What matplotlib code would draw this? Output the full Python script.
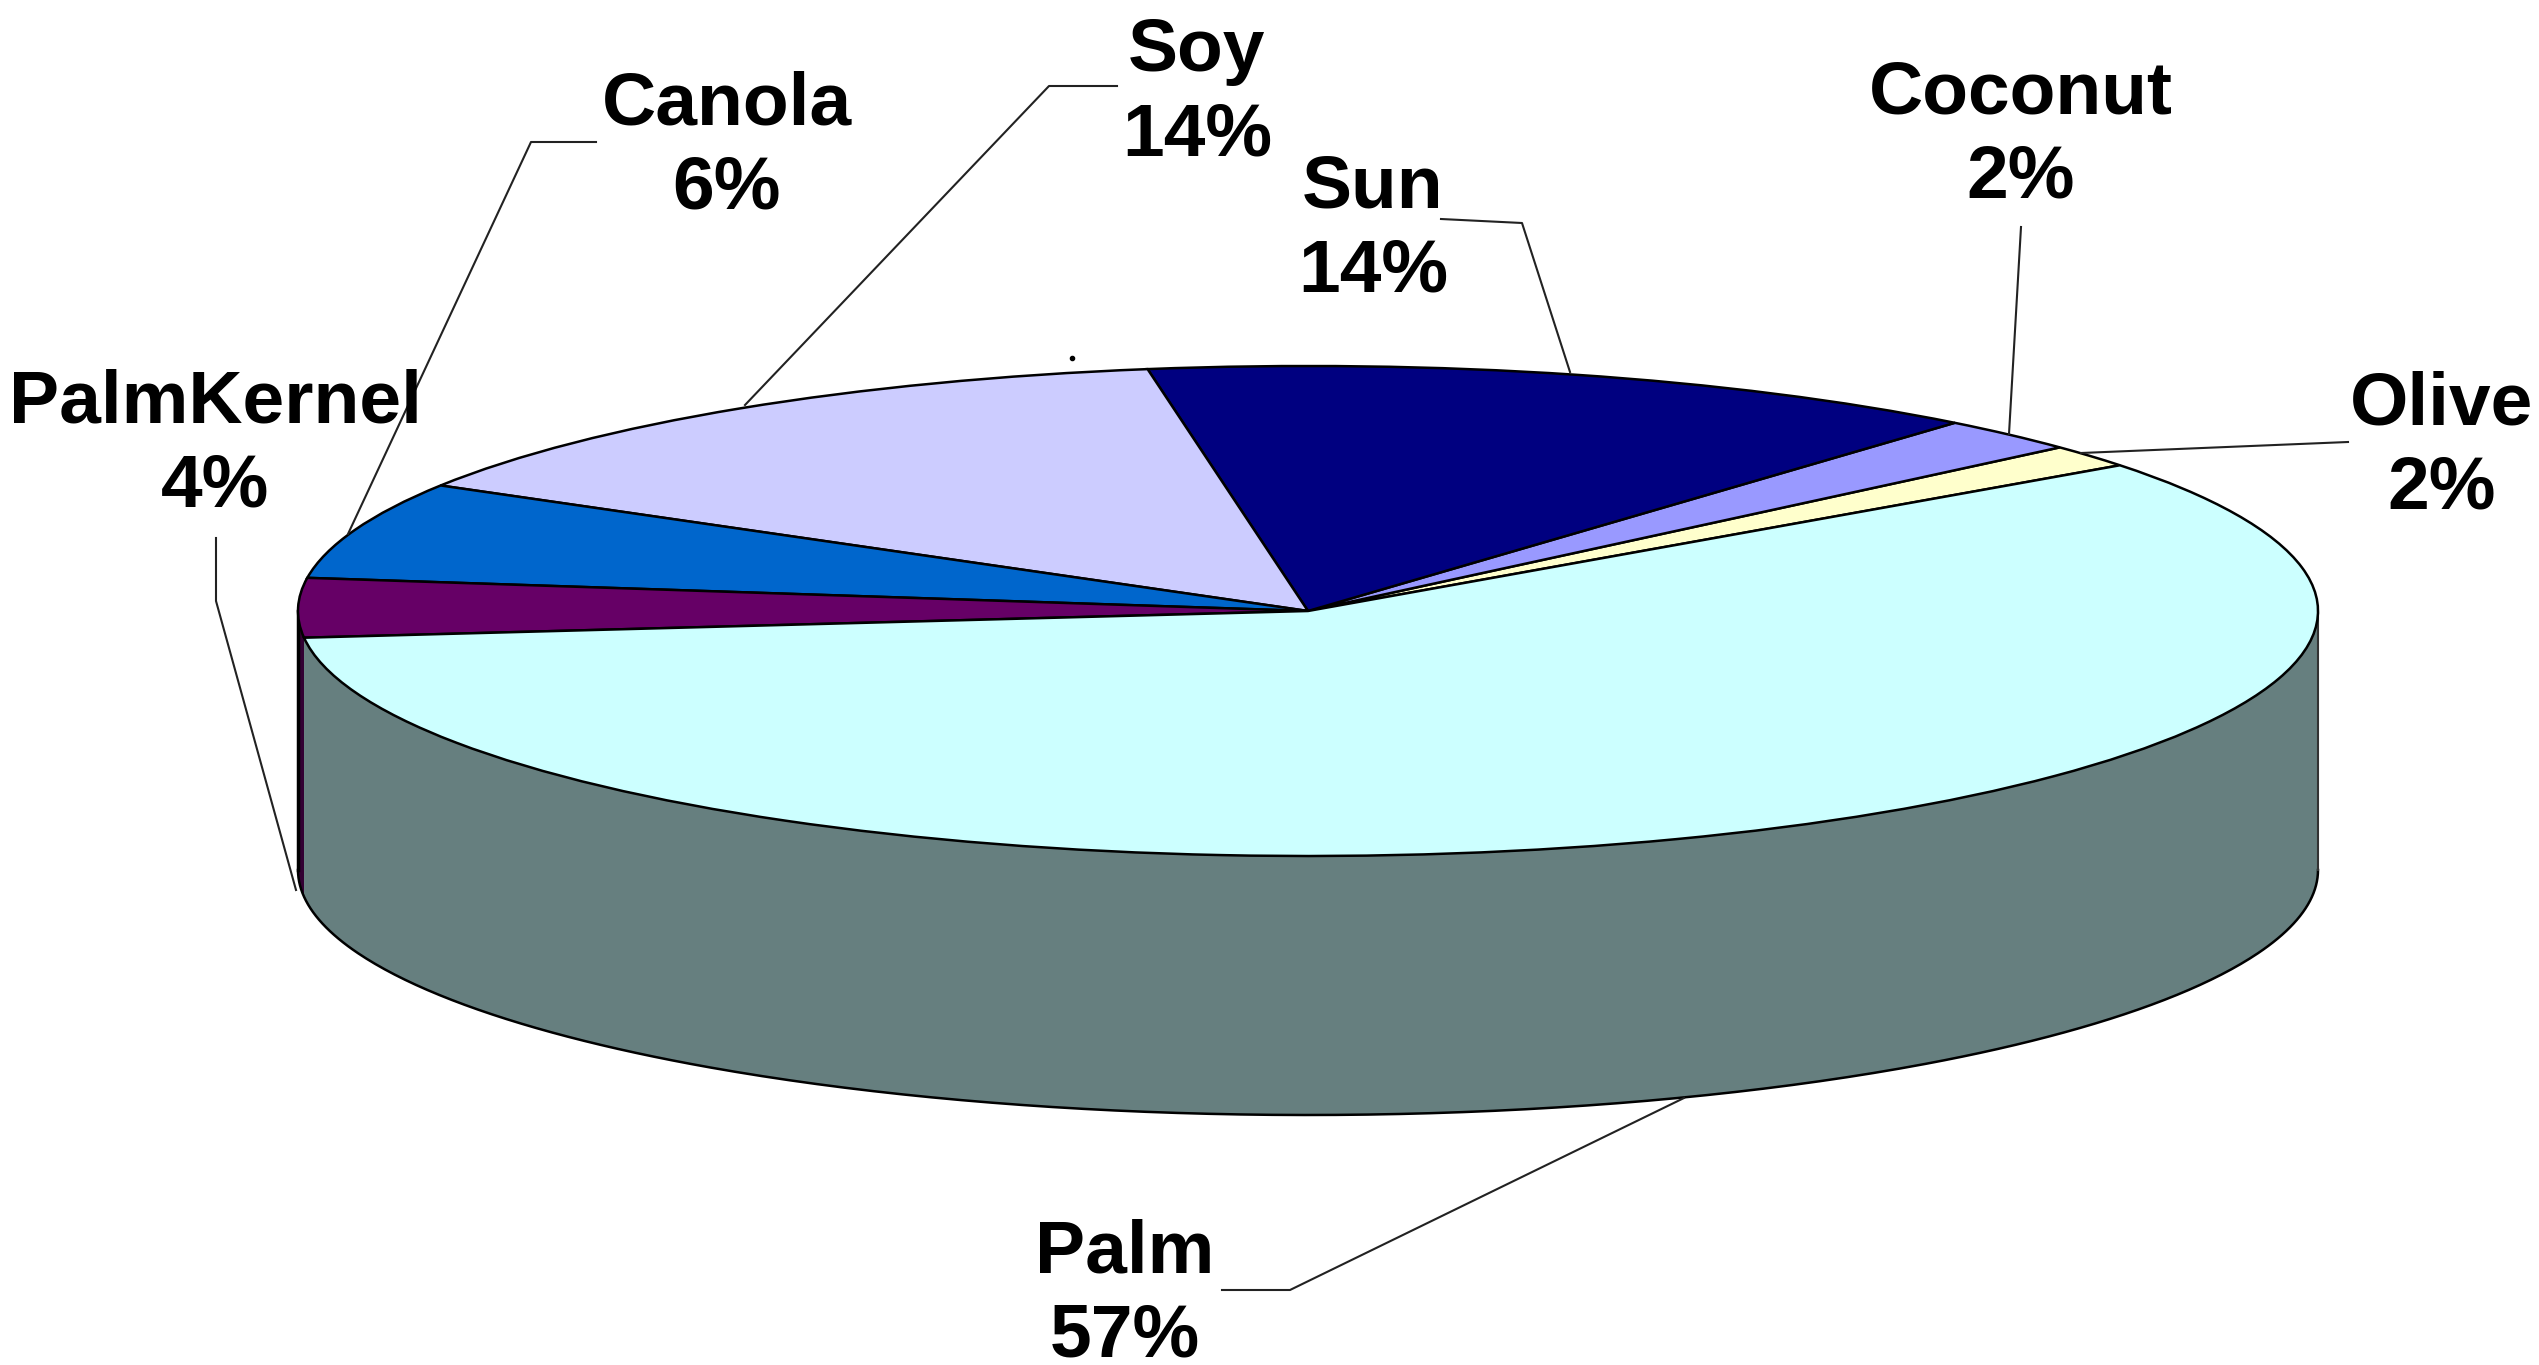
import numpy as np
import matplotlib.pyplot as plt

plt.rcParams['font.family'] = ['Liberation Sans', 'DejaVu Sans']

# slices, counter clockwise from the olive slice
names = ['Olive', 'Coconut', 'Sun', 'Soy', 'Canola', 'PalmKernel', 'Palm']
percent_labels = ['2%', '2%', '14%', '14%', '6%', '4%', '57%']
# shares as drawn in the picture (the angles differ a bit from the printed labels)
shares = [1.5, 2.3, 13.6, 13.9, 6.4, 3.9, 58.4]
top_colors = ['#FFFFCC', '#9999FF', '#000080', '#CCCCFF', '#0066CC', '#660066', '#CCFFFF']
side_colors = ['#7F7F66', '#4C4C7F', '#000040', '#66667F', '#003366', '#330033', '#667F7F']

W, H = 2539, 1365
CX, CY = 1308, 611
A, B = 1010, 245
DEPTH = 259 / B


def px(x, y):
    return (x - CX) / A, (CY - y) / B


fig = plt.figure(figsize=(W / 100, H / 100), dpi=100)
ax = fig.add_axes([0, 0, 1, 1])

wedges, _ = ax.pie(shares, startangle=36.5, colors=top_colors,
                   wedgeprops={'edgecolor': 'black', 'linewidth': 1.8, 'zorder': 3})
ax.set_aspect('auto')
ax.set_xlim(px(0, 0)[0], px(W, 0)[0])
ax.set_ylim(px(0, H)[1], px(0, 0)[1])
ax.axis('off')

# side wall, only the front half of the rim shows
for w, col in zip(wedges, side_colors):
    t1 = max(w.theta1, 180)
    t2 = min(w.theta2, 360)
    if t2 <= t1:
        continue
    th = np.radians(np.linspace(t1, t2, 200))
    xs = np.cos(th)
    ys = np.sin(th)
    ax.fill(np.r_[xs, xs[::-1]], np.r_[ys, ys[::-1] - DEPTH],
            facecolor=col, edgecolor='none', zorder=1)

th = np.radians(np.linspace(180, 360, 400))
ax.plot(np.cos(th), np.sin(th) - DEPTH, color='black', lw=1.8, zorder=2)
ax.plot([-1, -1], [0, -DEPTH], color='black', lw=2.5, zorder=2)
ax.plot([1, 1], [0, -DEPTH], color='#333333', lw=1.5, zorder=2)

# leader lines
leaders = {
    'Canola': [(596, 142), (531, 142), (348, 534)],
    'Soy': [(1117, 86), (1049, 86), (745, 405)],
    'Sun': [(1441, 219), (1522, 223), (1570, 372)],
    'Coconut': [(2021, 227), (2009, 434)],
    'Olive': [(2348, 442), (2081, 453)],
    'PalmKernel': [(216, 538), (216, 601), (296, 890)],
    'Palm': [(1222, 1290), (1290, 1290), (1684, 1098)],
}
for pts in leaders.values():
    xy = [px(*p) for p in pts]
    ax.plot([p[0] for p in xy], [p[1] for p in xy], color='#222222', lw=1.5, zorder=4)

# stray dot above the soy slice
ax.plot(*px(1072, 358), marker='o', ms=3, color='black', zorder=4)

label_pos = {
    'Olive': (2442, 447),
    'Coconut': (2021, 136),
    'Sun': (1373, 230),
    'Soy': (1197, 94),
    'Canola': (727, 147),
    'PalmKernel': (215, 445),
    'Palm': (1125, 1295),
}
for name, pct in zip(names, percent_labels):
    x, y = px(*label_pos[name])
    ax.text(x, y, name + '\n' + pct, ha='center', va='center', fontsize=54,
            fontweight='bold', color='black', linespacing=1.28, zorder=5)

fig.savefig('out.png', dpi=100, facecolor='white')
